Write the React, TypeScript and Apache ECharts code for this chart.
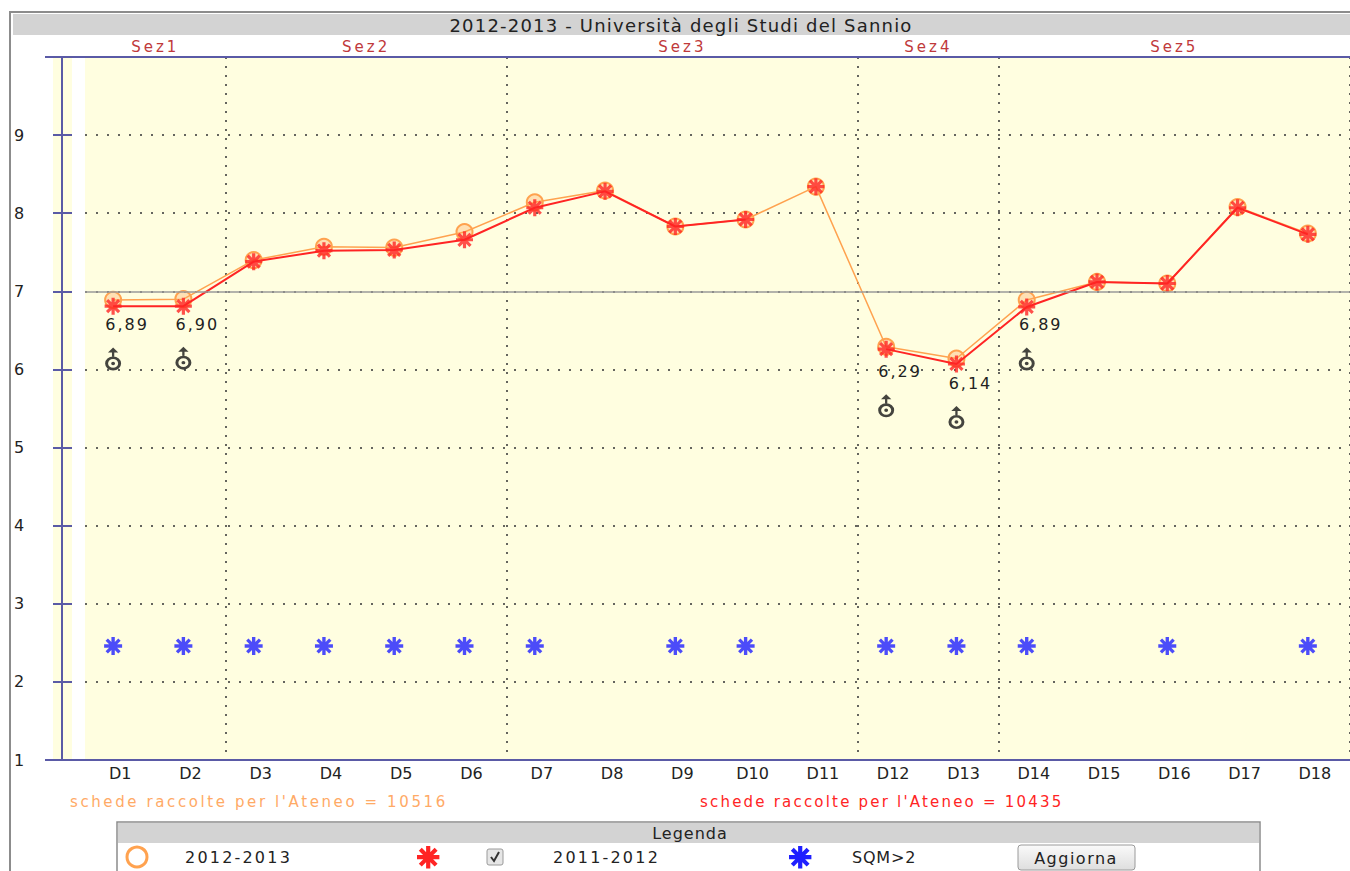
import React, { useEffect, useRef } from 'react';
import * as echarts from 'echarts';

// ---------- data ----------
const categories = ['D1','D2','D3','D4','D5','D6','D7','D8','D9','D10','D11','D12','D13','D14','D15','D16','D17','D18'];
const values2013 = [6.89, 6.90, 7.40, 7.57, 7.56, 7.76, 8.14, 8.29, 7.83, 7.92, 8.34, 6.29, 6.14, 6.89, 7.12, 7.10, 8.08, 7.74];
const values2012 = [6.81, 6.81, 7.38, 7.52, 7.53, 7.66, 8.07, 8.28, 7.83, 7.92, 8.34, 6.26, 6.07, 6.80, 7.12, 7.10, 8.07, 7.73];
const unlinked2012 = ['D11'];
const sqmFlags = [1,1,1,1,1,1,1,0,1,1,0,1,1,1,0,1,0,1];
const SQM_LEVEL = 2.46;
const THRESHOLD = 7;
const sectionNames = ['Sez1','Sez2','Sez3','Sez4','Sez5'];
const sectionSizes = [2, 4, 5, 2, 5];
const yMin = 1, yMax = 10, yStep = 1;
const collected2013 = 10516;
const collected2012 = 10435;
const titleText = '2012-2013 - Università degli Studi del Sannio';

// ---------- styles ----------
const ORANGE = '#ffa24f';
const RED = '#ff2424';
const BLUE = '#1f1fff';
const AXIS = '#5a5aa6';
const SEZ = '#c0393b';
const YELLOW = '#fffee0';
const FONT = 'DejaVu Sans';

const ASTERISK_D = 'M0 6.5H16V9.5H0Z M6.5 0H9.5V16H6.5Z M3.4 1.3L14.7 12.6L12.6 14.7L1.3 3.4Z M12.6 1.3L14.7 3.4L3.4 14.7L1.3 12.6Z M4.2 8A3.8 3.8 0 1 1 11.8 8A3.8 3.8 0 1 1 4.2 8Z';
const MALE_D = 'M8 0L12.5 5H3.5Z M7 5H9V9H7Z M1 16A7 7 0 1 1 15 16A7 7 0 1 1 1 16Z M3.6 16A4.4 4.4 0 1 0 12.4 16A4.4 4.4 0 1 0 3.6 16Z M6.3 16A1.7 1.7 0 1 1 9.7 16A1.7 1.7 0 1 1 6.3 16Z';

echarts.graphic.registerShape('asteriskShape', echarts.graphic.extendPath(ASTERISK_D, {}));

const fmt = (v: number) => v.toFixed(2).replace('.', ',');

const sectionStarts: number[] = [];
const sectionMids: number[] = [];
{
  let acc = 0;
  sectionSizes.forEach((s) => {
    sectionStarts.push(acc);
    sectionMids.push(acc + s / 2);
    acc += s;
  });
}

const SPACING: [RegExp, string][] = [
  [/^Sez\d$/, '3px'],
  [/^schede raccolte per l'Ateneo = 10516$/, '2.6px'],
  [/^schede/, '2.2px'],
  [/^\d,\d\d$/, '2px'],
  [/^20\d\d-20\d\d$/, '2.2px'],
  [/^SQM/, '0.8px'],
  [/^Legenda$/, '1px'],
  [/^Aggiorna$/, '1.5px'],
  [/^2012-2013 - /, '1.2px'],
];

export default function App() {
  const ref = useRef<HTMLDivElement>(null);
  useEffect(() => {
    document.body.style.margin = '0';
    const el = ref.current!;
    const chart = echarts.init(el, null, { renderer: 'svg' });

    const option: any = {
      animation: false,
      grid: {
        left: 85, top: 57, width: 18 * 70.6, height: 703,
        show: true, backgroundColor: YELLOW, borderWidth: 0,
      },
      xAxis: [
        {
          type: 'category', data: categories, position: 'bottom', boundaryGap: true,
          axisLine: { show: true, onZero: false, lineStyle: { color: AXIS, width: 2 } },
          axisTick: { show: false },
          axisLabel: { color: '#222', fontSize: 16, fontFamily: FONT, margin: 5 },
          splitLine: {
            show: true,
            interval: (i: number) => i > 0 && sectionStarts.includes(i),
            lineStyle: { color: '#333', type: [2, 7], width: 1.5 },
          },
        },
        { type: 'value', min: 0.6, max: 18.6, show: false, axisLine: { onZero: false } },
        {
          type: 'value', min: 0, max: 18, position: 'top',
          axisLine: { show: false, onZero: false }, axisTick: { show: false }, splitLine: { show: false },
          axisLabel: {
            customValues: sectionMids,
            formatter: (v: number) => sectionNames[sectionMids.indexOf(v)] ?? '',
            color: SEZ, fontSize: 15, fontFamily: FONT, margin: 3,
          },
        },
      ],
      yAxis: [
        {
          // labels + crossing ticks
          type: 'value', min: yMin, max: yMax, interval: yStep, position: 'left', offset: 13,
          axisLine: { show: false, onZero: false },
          axisTick: { show: true, length: 19, lineStyle: { color: AXIS, width: 2 } },
          axisLabel: {
            align: 'left', margin: 58, color: '#222', fontSize: 16, fontFamily: FONT,
            formatter: (v: number) => (v === yMax ? '' : String(v)),
          },
          splitLine: {
            show: true, showMinLine: false, showMaxLine: false,
            lineStyle: { color: '#333', type: [2, 9], width: 1.5 },
          },
        },
        {
          // axis line
          type: 'value', min: yMin, max: yMax, interval: yStep, position: 'left', offset: 23,
          axisLine: { show: true, onZero: false, lineStyle: { color: AXIS, width: 2 } },
          axisTick: { show: false },
          axisLabel: { show: false },
          splitLine: { show: false },
        },
      ],
      graphic: [
        { type: 'rect', z: -10, shape: { x: 53, y: 57, width: 19, height: 703 }, style: { fill: YELLOW } },
        { type: 'line', z: 100, shape: { x1: 45, y1: 57, x2: 1350, y2: 57 }, style: { stroke: AXIS, lineWidth: 2 } },
        { type: 'line', z: 100, shape: { x1: 45, y1: 760, x2: 90, y2: 760 }, style: { stroke: AXIS, lineWidth: 2 } },
        // frame + title bar
        { type: 'line', shape: { x1: 10, y1: 12, x2: 1350, y2: 12 }, style: { stroke: '#8c8c8c', lineWidth: 2 } },
        { type: 'line', shape: { x1: 10, y1: 11, x2: 10, y2: 871 }, style: { stroke: '#8c8c8c', lineWidth: 2 } },
        { type: 'rect', shape: { x: 13, y: 14, width: 1337, height: 21 }, style: { fill: '#d3d3d3' } },
        { type: 'text', x: 681, y: 25, style: { text: titleText, fill: '#222', font: `18px "${FONT}"`, align: 'center', verticalAlign: 'middle' } },
        // collected forms
        { type: 'text', x: 70, y: 802, style: { text: `schede raccolte per l'Ateneo = ${collected2013}`, fill: '#ffaa66', font: `15px "${FONT}"`, align: 'left', verticalAlign: 'middle' } },
        { type: 'text', x: 700, y: 802, style: { text: `schede raccolte per l'Ateneo = ${collected2012}`, fill: RED, font: `15px "${FONT}"`, align: 'left', verticalAlign: 'middle' } },
        // legend box
        { type: 'rect', shape: { x: 117, y: 822, width: 1143, height: 60 }, style: { fill: '#fff', stroke: '#8c8c8c', lineWidth: 1.5 } },
        { type: 'rect', shape: { x: 118, y: 823, width: 1141, height: 20 }, style: { fill: '#d3d3d3' } },
        { type: 'text', x: 690, y: 833, style: { text: 'Legenda', fill: '#222', font: `16px "${FONT}"`, align: 'center', verticalAlign: 'middle' } },
        { type: 'circle', shape: { cx: 137, cy: 857, r: 10 }, style: { fill: 'none', stroke: ORANGE, lineWidth: 3 } },
        { type: 'text', x: 185, y: 857, style: { text: '2012-2013', fill: '#222', font: `16px "${FONT}"`, align: 'left', verticalAlign: 'middle' } },
        { type: 'asteriskShape', x: 417, y: 846, scaleX: 1.4, scaleY: 1.4, style: { fill: RED } },
        { type: 'rect', shape: { x: 487, y: 849, width: 16, height: 16, r: 2 }, style: { fill: '#e6e6e6', stroke: '#9a9a9a', lineWidth: 1 } },
        { type: 'polyline', shape: { points: [[491, 857], [494, 861], [499, 852]] }, style: { stroke: '#333', lineWidth: 2, fill: 'none' } },
        { type: 'text', x: 553, y: 857, style: { text: '2011-2012', fill: '#222', font: `16px "${FONT}"`, align: 'left', verticalAlign: 'middle' } },
        { type: 'asteriskShape', x: 789, y: 846, scaleX: 1.4, scaleY: 1.4, style: { fill: BLUE } },
        { type: 'text', x: 852, y: 857, style: { text: 'SQM>2', fill: '#222', font: `16px "${FONT}"`, align: 'left', verticalAlign: 'middle' } },
        {
          type: 'rect', shape: { x: 1018, y: 845, width: 117, height: 25, r: 3 },
          style: {
            stroke: '#9a9a9a', lineWidth: 1,
            fill: new echarts.graphic.LinearGradient(0, 0, 0, 1, [
              { offset: 0, color: '#fafafa' }, { offset: 1, color: '#dedede' },
            ]),
          },
        },
        { type: 'text', x: 1076, y: 858, style: { text: 'Aggiorna', fill: '#222', font: `16px "${FONT}"`, align: 'center', verticalAlign: 'middle' } },
      ],
      series: [
        {
          name: '2012-2013', type: 'line', xAxisIndex: 1, yAxisIndex: 0, z: 2,
          data: values2013.map((v, i) => ({ value: [i + 1, v], label: { show: v < THRESHOLD } })),
          symbol: 'circle', symbolSize: 16,
          itemStyle: { color: 'rgba(255,170,95,0.35)', borderColor: ORANGE, borderWidth: 2 },
          lineStyle: { color: ORANGE, width: 1.5 },
          label: {
            show: false, position: 'inside', offset: [14, 25],
            formatter: (p: any) => fmt(p.value[1]),
            color: '#222', fontSize: 16, fontFamily: FONT,
          },
          markLine: {
            silent: true, symbol: 'none', label: { show: false },
            lineStyle: { color: '#9a9a9a', type: 'solid', width: 1.5 },
            data: [{ yAxis: THRESHOLD }],
          },
        },
        {
          name: '2011-2012', type: 'line', xAxisIndex: 1, yAxisIndex: 0, z: 3,
          data: values2012.map((v, i) => (unlinked2012.includes(categories[i]) ? '-' : [i + 1, v])),
          showSymbol: false, symbol: 'none',
          lineStyle: { color: RED, width: 2 },
        },
        {
          name: '2011-2012 punti', type: 'scatter', xAxisIndex: 1, yAxisIndex: 0, z: 4,
          data: values2012.map((v, i) => [i + 1, v]),
          symbol: 'path://' + ASTERISK_D, symbolSize: 17,
          itemStyle: { color: RED },
        },
        {
          name: 'sotto soglia', type: 'scatter', xAxisIndex: 1, yAxisIndex: 0, z: 4,
          data: values2013.map((v, i) => (v < THRESHOLD ? [i + 1, v] : null)).filter((d) => d),
          symbol: 'path://' + MALE_D, symbolSize: [16, 23], symbolOffset: [0, 59],
          itemStyle: { color: '#151515' },
        },
        {
          name: 'SQM>2', type: 'scatter', xAxisIndex: 1, yAxisIndex: 0, z: 4,
          data: sqmFlags.map((f, i) => (f ? [i + 1, SQM_LEVEL] : null)).filter((d) => d),
          symbol: 'path://' + ASTERISK_D, symbolSize: 18,
          itemStyle: { color: BLUE },
        },
      ],
    };

    const applySpacing = () => {
      el.querySelectorAll('text').forEach((t) => {
        const s = (t.textContent || '').trim();
        for (const [re, sp] of SPACING) {
          if (re.test(s)) {
            (t as any).style.letterSpacing = sp;
            break;
          }
        }
      });
    };
    chart.on('rendered', applySpacing);
    chart.setOption(option);
    applySpacing();
    const tm = setTimeout(applySpacing, 50);

    return () => {
      clearTimeout(tm);
      chart.dispose();
    };
  }, []);

  return <div ref={ref} style={{ width: 1350, height: 871 }} />;
}
